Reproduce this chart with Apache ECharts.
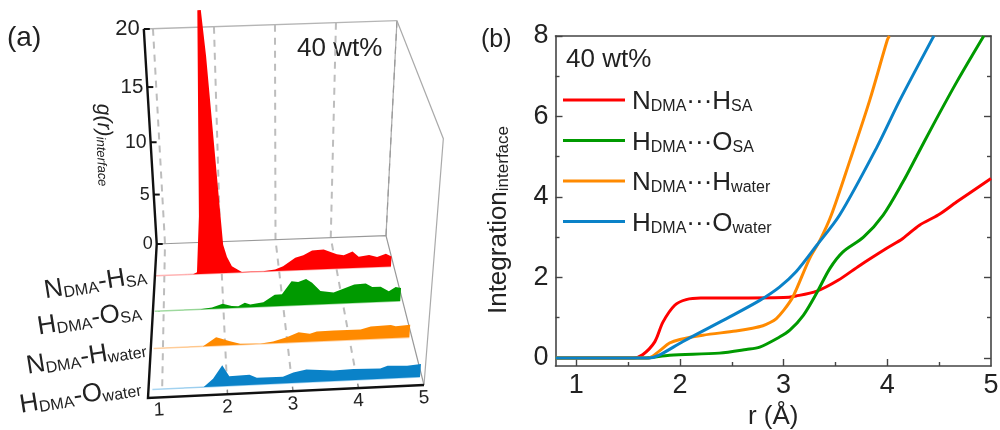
<!DOCTYPE html>
<html>
<head>
<meta charset="utf-8">
<style>html,body{margin:0;padding:0;background:#fff}#c{width:1000px;height:430px}</style>
<script src="https://cdn.jsdelivr.net/npm/echarts@6/dist/echarts.min.js"></script>
</head>
<body>
<div id="c"></div>
<script>
// ---------- panel (a): g(r) ridges, pairs of [r, g]
const ridgeNH_SA = [[0.85,0],[1.5,0],[1.57,0.2],[1.645,5.8],[1.757,24],[1.81,24],[1.865,20.2],[2.01,5.8],[2.04,2.9],[2.1,1.65],[2.18,0.68],[2.35,0.04],[2.72,0.03],[2.93,0.15],[3.07,0.47],[3.28,1.3],[3.42,1.53],[3.57,1.98],[3.77,2.02],[4.0,1.48],[4.12,1.37],[4.27,1.7],[4.38,1.15],[4.56,1.28],[4.7,1.04],[4.85,1.35],[4.95,1.03]];
const ridgeHO_SA = [[0.85,0],[1.61,0],[1.81,0.15],[1.99,0.48],[2.14,0.2],[2.25,0.16],[2.36,0.48],[2.45,0.29],[2.67,0.46],[2.86,1.18],[2.98,1.22],[3.14,2.5],[3.25,2.4],[3.38,2.65],[3.48,2.25],[3.62,1.39],[3.84,1.16],[4.18,1.9],[4.37,1.95],[4.48,1.56],[4.62,1.55],[4.76,1.07],[4.87,1.47],[4.96,1.35]];
const ridgeNH_W = [[0.85,0],[1.64,0],[1.86,0.88],[1.92,0.77],[2.08,0.42],[2.24,0.1],[2.56,0.02],[2.77,0.2],[2.99,0.58],[3.18,1.04],[3.36,0.82],[3.47,1.03],[3.74,1.06],[4.17,1.04],[4.33,1.31],[4.65,1.36],[4.73,1.22],[4.96,1.31]];
const ridgeHO_W = [[0.85,0],[1.64,0],[1.79,0.82],[1.94,2.15],[2.04,1.0],[2.35,1.06],[2.46,0.72],[2.86,0.7],[3.02,1.07],[3.22,1.32],[3.63,1.09],[3.94,1.16],[4.35,1.08],[4.46,1.32],[4.76,1.23],[4.97,1.34]];
const ridgeDepths = [0.206, 0.437, 0.68, 0.946];
const ridgeNames = ['NDMA-HSA','HDMA-OSA','NDMA-Hwater','HDMA-Owater'];
const gTicks = [0,5,10,15,20];
const gTickFont = [18,18,19.5,20.5,22];
const rTicks = [1,2,3,4,5];

// ---------- panel (b): integration curves
const rNH_SA = [0.8,1.55,1.64,1.757,1.836,1.95,2.06,2.2,2.5,3.0,3.12,3.32,3.525,3.735,3.99,4.15,4.31,4.49,4.67,5.0];
const vNH_SA = [0,0,0.08,0.4,0.89,1.31,1.45,1.49,1.49,1.5,1.54,1.66,1.93,2.3,2.72,2.97,3.3,3.55,3.88,4.46];
const rHO_SA = [0.8,1.65,1.9,2.38,2.64,2.77,2.96,3.06,3.19,3.32,3.445,3.57,3.77,3.96,4.15,4.28,4.44,4.67,4.93];
const vHO_SA = [0,0,0.07,0.12,0.21,0.27,0.52,0.69,1.06,1.62,2.22,2.63,3.0,3.55,4.37,5.0,5.78,6.86,8.0];
const rNH_W = [0.8,1.7,1.8,1.9,2.0,2.22,2.54,2.7,2.8,2.87,2.93,3.0,3.09,3.25,3.35,3.46,3.64,3.83,4.0,4.02];
const vNH_W = [0,0,0.17,0.37,0.46,0.565,0.67,0.74,0.8,0.88,0.98,1.18,1.52,2.47,2.92,3.55,4.91,6.4,7.9,8.0];
const rHO_W = [0.8,1.7,1.8,2.03,2.48,2.77,2.96,3.12,3.32,3.54,3.9,4.12,4.44,4.45];
const vHO_W = [0,0,0.07,0.41,1.02,1.43,1.76,2.14,2.8,3.55,5.24,6.4,7.96,8.0];
const xMajor = [1,2,3,4];
const xLabels = [1,2,3,4,5];
const xMinor = [1.5,2.5,3.5,4.5];
const yMajor = [0,2,4,6,8];
const yMinor = [1,3,5,7];

const FONT = '"Liberation Sans", Arial, sans-serif';
const INK = '#222';
const COL = ['#ff0000','#009a00','#ff8a00','#0a82c8'];
const PALE = ['#ffb4b4','#a6dca6','#ffd2a4','#aad6f2'];

// ---------- pseudo-3D projection of (r, depth, g) using the hidden axes of panel (a)
const GL = 165, GW = 221, GT = 29, GH = 215;
const lerp = (a,b,t) => a + (b-a)*t;
function proj(api, r, d, g){
  const p = api.coord([r, g]);
  const u = (p[0]-GL)/GW, t = (GT+GH-p[1])/GH;
  const h = 192*t + 23*t*t;
  return [
    lerp(165+221*u, 162+262*u, d) + h*(-0.056+0.107*u)*(1+0.54*d),
    lerp(243.7-8*u, 397.3-12.3*u, d) - h
  ];
}
const richA = {
  m:{fontSize:26,fontFamily:FONT,fill:INK,color:INK,lineHeight:30,verticalAlign:'bottom'},
  s:{fontSize:16,fontFamily:FONT,fill:INK,color:INK,lineHeight:20,verticalAlign:'bottom',padding:[16,0,0,0]}
};
const richL = {
  m:{fontSize:26,fontFamily:FONT,color:INK,lineHeight:30,verticalAlign:'bottom'},
  s:{fontSize:16,fontFamily:FONT,color:INK,lineHeight:20,verticalAlign:'bottom',padding:[16,0,0,0]}
};

function ridgeSeries(data, i){
  return {
    type:'custom', name:ridgeNames[i], coordinateSystem:'cartesian2d', xAxisIndex:3, yAxisIndex:4,
    clip:false, silent:true, z:3, data:data, animation:false,
    renderItem(params, api){
      if (params.dataIndex !== 0) return null;
      const d = ridgeDepths[i];
      const top = data.map(q => proj(api, q[0], d, q[1]));
      const last = data[data.length-1][0], first = data[0][0];
      const poly = top.concat([proj(api,last,d,0), proj(api,first,d,0)]);
      return {type:'group', children:[
        {type:'polyline', shape:{points:[proj(api,first,d,0),proj(api,last,d,0)]}, style:{stroke:PALE[i],lineWidth:1.6,fill:null}},
        {type:'polygon', shape:{points:poly}, style:{fill:COL[i]}}
      ]};
    }
  };
}
const line = (pts,stroke,w,dash) => ({type:'polyline',shape:{points:pts},style:{stroke,lineWidth:w,fill:null,lineDash:dash||null,lineJoin:'miter'}});

const frameSeries = {
  type:'custom', name:'frame', coordinateSystem:'cartesian2d', xAxisIndex:3, yAxisIndex:4,
  clip:false, silent:true, z:2, animation:false, data:[[1,0]],
  renderItem(params, api){
    const P = (r,d,g) => proj(api,r,d,g);
    const kids = [];
    rTicks.forEach(r => {
      if (r<5) kids.push(line([P(r,0,20),P(r,0,0),P(r,0.96,0)],'#bdbdbd',2,[7,6]));
      if (r<5 && r>1) kids.push(line([P(r,0.97,0),P(r,1,0)],'#888',1.5));
    });
    kids.push(line([P(5,0,20),P(5,0,0)],'#aaa',1.2));
    kids.push(line([P(5,0,20),P(5,0,0)],'#999',1.2,[7,6]));
    kids.push(line([P(0.85,0,20),P(5,0,20)],'#b5b5b5',1.3));
    kids.push(line([P(0.85,0,0),P(5,0,0),P(5,1,0)],'#999',1.2));
    kids.push(line([P(5,0,20),P(5,1,22.6),P(5,1,0)],'#aaa',1.2));
    return {type:'group',children:kids};
  }
};
const axisSeries = {
  type:'custom', name:'axes', coordinateSystem:'cartesian2d', xAxisIndex:3, yAxisIndex:4,
  clip:false, silent:true, z:4, animation:false, data:[[1,0]],
  renderItem(params, api){
    const P = (r,d,g) => proj(api,r,d,g);
    const kids = [line([P(0.85,0,20),P(0.85,0,0),P(0.786,1,0),P(5,1,0)],'#111',2.4)];
    gTicks.forEach((g,i) => {
      const p = P(0.85,0,g);
      kids.push(line([p,[p[0]+6,p[1]]],'#111',2));
      kids.push({type:'text',x:p[0]-4,y:p[1],style:{text:String(g),fontSize:gTickFont[i],fontFamily:FONT,fill:INK,align:'right',verticalAlign:'middle'}});
    });
    rTicks.forEach(r => {
      const p = P(r,1,0);
      kids.push({type:'text',x:p[0]-(r===1?3:0),y:p[1]+13,rotation:0.05,style:{text:String(r),fontSize:19,fontFamily:FONT,fill:INK,align:'center',verticalAlign:'middle'}});
    });
    return {type:'group',children:kids};
  }
};

const zip = (a,b) => a.map((v,i)=>[v,b[i]]);
const legendText = {
  'NDMA···HSA':'{m|N}{s|DMA}{m|···H}{s|SA}',
  'HDMA···OSA':'{m|H}{s|DMA}{m|···O}{s|SA}',
  'NDMA···Hwater':'{m|N}{s|DMA}{m|···H}{s|water}',
  'HDMA···Owater':'{m|H}{s|DMA}{m|···O}{s|water}'
};
const names = Object.keys(legendText);
function curve(name, r, v, i){
  return {type:'line',name,xAxisIndex:0,yAxisIndex:0,data:zip(r,v),showSymbol:false,smooth:0.3,
    lineStyle:{color:COL[i],width:3},itemStyle:{color:COL[i]},z:5,animation:false};
}
const AX = '#444';
const baseX = {type:'value',gridIndex:0,min:0.8,max:5,splitLine:{show:false}};
const baseY = {type:'value',gridIndex:0,min:-0.2,max:8,splitLine:{show:false}};
const aLine = {show:true,onZero:false,lineStyle:{color:AX,width:1.6}};
const noLine = {show:false,onZero:false};
const tk = (vals,len) => ({show:true,inside:true,length:len,customValues:vals,lineStyle:{color:AX,width:1.4}});

const option = {
  backgroundColor:'#fff',
  animation:false,
  textStyle:{fontFamily:FONT},
  grid:[
    {left:555.5,top:36,width:435.5,height:330,outerBoundsMode:'none'},
    {left:GL,top:GT,width:GW,height:GH,show:false,outerBoundsMode:'none'}
  ],
  legend:{
    left:563,top:83,padding:0,orient:'vertical',data:names,icon:'rect',itemWidth:62,itemHeight:3,itemGap:8.5,
    formatter:n=>legendText[n],selectedMode:false,
    textStyle:{color:INK,fontFamily:FONT,fontSize:26,rich:richL,padding:[0,0,0,2]}
  },
  xAxis:[
    Object.assign({},baseX,{position:'bottom',axisLine:aLine,axisTick:tk(xMajor,7),
      axisLabel:{show:true,customValues:xLabels,fontSize:27,color:INK,margin:6,fontFamily:FONT,hideOverlap:false},
      name:'r (Å)',nameLocation:'middle',nameGap:38,nameTextStyle:{fontSize:26,color:INK,fontFamily:FONT}}),
    Object.assign({},baseX,{position:'bottom',axisLine:noLine,axisTick:tk(xMinor,4),axisLabel:{show:false}}),
    Object.assign({},baseX,{position:'top',axisLine:aLine,axisTick:{show:false},axisLabel:{show:false}}),
    {type:'value',gridIndex:1,min:1,max:5,show:false}
  ],
  yAxis:[
    Object.assign({},baseY,{position:'left',axisLine:aLine,axisTick:tk(yMajor,7),
      axisLabel:{show:true,customValues:yMajor,fontSize:27,color:INK,margin:7,fontFamily:FONT},
      name:'Integration{s|interface}',nameLocation:'middle',nameGap:44,nameRotate:90,
      nameTextStyle:{fontSize:26,color:INK,fontFamily:FONT,padding:[0,38,0,0],
        rich:{s:{fontSize:17,fontFamily:FONT,color:INK,verticalAlign:'bottom',lineHeight:20,padding:[14,0,0,0]}}}}),
    Object.assign({},baseY,{position:'left',axisLine:noLine,axisTick:tk(yMinor,4),axisLabel:{show:false}}),
    Object.assign({},baseY,{position:'right',axisLine:aLine,axisTick:tk(yMajor,7),axisLabel:{show:false}}),
    Object.assign({},baseY,{position:'right',axisLine:noLine,axisTick:tk(yMinor,4),axisLabel:{show:false}}),
    {type:'value',gridIndex:1,min:0,max:20,show:false}
  ],
  series:[
    frameSeries,
    ridgeSeries(ridgeNH_SA,0), ridgeSeries(ridgeHO_SA,1), ridgeSeries(ridgeNH_W,2), ridgeSeries(ridgeHO_W,3),
    axisSeries,
    curve(names[0],rNH_SA,vNH_SA,0), curve(names[1],rHO_SA,vHO_SA,1),
    curve(names[2],rNH_W,vNH_W,2), curve(names[3],rHO_W,vHO_W,3)
  ],
  graphic:[
    {type:'text',x:7,y:24,style:{text:'(a)',fontSize:28,fontFamily:FONT,fill:INK}},
    {type:'text',x:481,y:28,style:{text:'(b)',fontSize:25,fontFamily:FONT,fill:INK}},
    {type:'text',x:297,y:36,style:{text:'40 wt%',fontSize:26,fontFamily:FONT,fill:INK}},
    {type:'text',x:566,y:47,style:{text:'40 wt%',fontSize:26,fontFamily:FONT,fill:INK}},
    {type:'text',x:106,y:145,rotation:-1.53,style:{text:'{g|g(r)}{s|interface}',align:'center',verticalAlign:'middle',
      rich:{g:{fontSize:21,fontStyle:'italic',fontFamily:FONT,fill:INK,color:INK,lineHeight:24,verticalAlign:'bottom'},
            s:{fontSize:13,fontStyle:'italic',fontFamily:FONT,fill:INK,color:INK,lineHeight:16,verticalAlign:'bottom',padding:[10,0,0,0]}}}},
    {type:'text',x:95,y:281,rotation:0.16,style:{text:'{m|N}{s|DMA}{m|-H}{s|SA}',align:'center',verticalAlign:'middle',rich:richA}},
    {type:'text',x:89,y:317,rotation:0.16,style:{text:'{m|H}{s|DMA}{m|-O}{s|SA}',align:'center',verticalAlign:'middle',rich:richA}},
    {type:'text',x:86,y:355,rotation:0.16,style:{text:'{m|N}{s|DMA}{m|-H}{s|water}',align:'center',verticalAlign:'middle',rich:richA}},
    {type:'text',x:80,y:394,rotation:0.16,style:{text:'{m|H}{s|DMA}{m|-O}{s|water}',align:'center',verticalAlign:'middle',rich:richA}}
  ]
};
const chart = echarts.init(document.getElementById('c'), null, {renderer:'canvas', width:1000, height:430});
chart.setOption(option);
</script>
</body>
</html>
